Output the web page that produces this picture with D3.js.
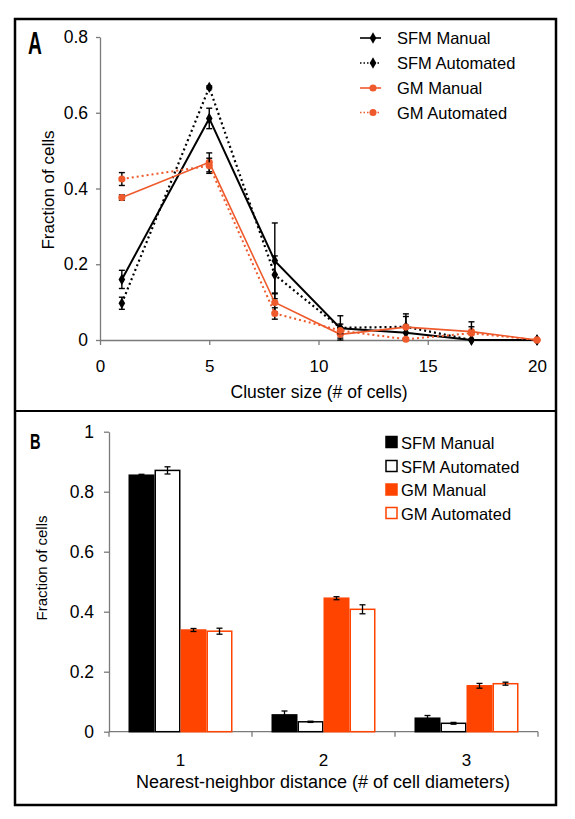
<!DOCTYPE html>
<html>
<head>
<meta charset="utf-8">
<script src="https://cdn.jsdelivr.net/npm/d3@7"></script>
<style>
  html, body { margin: 0; padding: 0; background: #fff; }
  text { font-family: "Liberation Sans", Arial, sans-serif; fill: #000; }
</style>
</head>
<body>
<script>
// ---------- DATA: panel A (line chart) ----------
const clusterSizes = [1, 5, 8, 11, 14, 17, 20];
const sfmManualA    = [0.160, 0.585, 0.209, 0.031, 0.019, 0.000, 0.000];
const sfmManualAErr = [0.024, 0.027, 0.100, 0.033, 0.020, 0.000, 0.000];
const sfmAutoA      = [0.097, 0.667, 0.172, 0.032, 0.035, 0.000, 0.000];
const sfmAutoAErr   = [0.016, 0.004, 0.050, 0.010, 0.034, 0.000, 0.000];
const gmManualA     = [0.376, 0.469, 0.099, 0.015, 0.034, 0.022, 0.000];
const gmManualAErr  = [0.007, 0.025, 0.025, 0.010, 0.028, 0.026, 0.000];
const gmAutoA       = [0.425, 0.460, 0.070, 0.025, 0.002, 0.018, 0.000];
const gmAutoAErr    = [0.017, 0.020, 0.015, 0.008, 0.003, 0.017, 0.000];
const xTicksA = [0, 5, 10, 15, 20];
const yTicksA = [0, 0.2, 0.4, 0.6, 0.8];

// ---------- DATA: panel B (bar chart) ----------
const distances = ["1", "2", "3"];
const seriesNames = ["SFM Manual", "SFM Automated", "GM Manual", "GM Automated"];
const sfmManualB    = [0.855, 0.056, 0.045];
const sfmManualBErr = [0.003, 0.013, 0.009];
const sfmAutoB      = [0.871, 0.033, 0.028];
const sfmAutoBErr   = [0.012, 0.002, 0.003];
const gmManualB     = [0.339, 0.445, 0.153];
const gmManualBErr  = [0.005, 0.005, 0.008];
const gmAutoB       = [0.335, 0.408, 0.160];
const gmAutoBErr    = [0.010, 0.015, 0.005];
const yTicksB = [0, 0.2, 0.4, 0.6, 0.8, 1];

// ---------- styling ----------
const ORANGE_LINE = "#ee5a2c";
const ORANGE_BAR = "#ff4400";
const AXIS_GRAY = "#7a7a7a";

const svg = d3.select("body").append("svg")
  .attr("width", 575).attr("height", 819);

// outer frame and divider
svg.append("rect").attr("x", 15).attr("y", 19).attr("width", 541).attr("height", 786)
  .attr("fill", "none").attr("stroke", "#000").attr("stroke-width", 2.5);
svg.append("line").attr("x1", 15).attr("x2", 556).attr("y1", 411).attr("y2", 411)
  .attr("stroke", "#000").attr("stroke-width", 2);

function panelLetter(txt, x, y, size, sx) {
  svg.append("text").text(txt)
    .attr("transform", `translate(${x},${y}) scale(${sx},1)`)
    .attr("font-size", size).attr("font-weight", "bold");
}
panelLetter("A", 28, 54, 31, 0.62);
panelLetter("B", 30, 449, 22.5, 0.65);

function styleAxis(g, fs) {
  g.select(".domain").attr("stroke", AXIS_GRAY).attr("stroke-width", 1.3);
  g.selectAll(".tick line").attr("stroke", AXIS_GRAY).attr("stroke-width", 1.3);
  g.selectAll(".tick text").attr("font-size", fs)
    .attr("font-family", '"Liberation Sans", Arial, sans-serif').attr("fill", "#000");
}

// =================== PANEL A ===================
const xA = d3.scaleLinear().domain([0, 20]).range([100, 537]);
const yA = d3.scaleLinear().domain([0, 0.8]).range([340, 37]);

const gxA = svg.append("g").attr("transform", `translate(0,${yA(0)})`)
  .call(d3.axisBottom(xA).tickValues(xTicksA).tickFormat(d3.format("d"))
    .tickSizeInner(5).tickSizeOuter(0).tickPadding(15));
styleAxis(gxA, 17);

const gyA = svg.append("g").attr("transform", `translate(${xA(0)},0)`)
  .call(d3.axisLeft(yA).tickValues(yTicksA).tickFormat(d => d === 0 ? "0" : d3.format(".1f")(d))
    .tickSizeInner(4).tickSizeOuter(0).tickPadding(8));
styleAxis(gyA, 17.5);

svg.append("text").text("Cluster size (# of cells)")
  .attr("x", 319).attr("y", 398).attr("text-anchor", "middle").attr("font-size", 17.5);
svg.append("text").text("Fraction of cells")
  .attr("transform", `translate(54,190) rotate(-90)`)
  .attr("text-anchor", "middle").attr("font-size", 17);

const diamond = d3.symbol().type(d3.symbolDiamond).size(38);
const circle = d3.symbol().type(d3.symbolCircle).size(40);

const seriesA = [
  { name: "SFM Manual",    v: sfmManualA, e: sfmManualAErr, color: "#000", dash: null,  width: 2,   sym: diamond },
  { name: "SFM Automated", v: sfmAutoA,   e: sfmAutoAErr,   color: "#000", dash: "2,3", width: 2.2, sym: diamond },
  { name: "GM Manual",     v: gmManualA,  e: gmManualAErr,  color: ORANGE_LINE, dash: null,  width: 1.6, sym: circle },
  { name: "GM Automated",  v: gmAutoA,    e: gmAutoAErr,    color: ORANGE_LINE, dash: "2,3", width: 2,   sym: circle }
];

const lineGen = d3.line().x(d => xA(d.x)).y(d => yA(d.y));

seriesA.forEach(s => {
  const pts = clusterSizes.map((x, i) => ({ x, y: s.v[i], e: s.e[i] }));
  const g = svg.append("g");
  pts.filter(p => p.e > 0).forEach(p => {
    const cx = xA(p.x), y1 = yA(p.y + p.e), y2 = yA(Math.max(0, p.y - p.e));
    g.append("line").attr("x1", cx).attr("x2", cx).attr("y1", y1).attr("y2", y2)
      .attr("stroke", "#000").attr("stroke-width", 1.4);
    [y1, y2].forEach(yy => g.append("line").attr("x1", cx - 3).attr("x2", cx + 3)
      .attr("y1", yy).attr("y2", yy).attr("stroke", "#000").attr("stroke-width", 1.4));
  });
  g.append("path").datum(pts).attr("d", lineGen).attr("fill", "none")
    .attr("stroke", s.color).attr("stroke-width", s.width)
    .attr("stroke-dasharray", s.dash);
  g.selectAll("path.m").data(pts).join("path").attr("class", "m")
    .attr("d", s.sym).attr("transform", d => `translate(${xA(d.x)},${yA(d.y)})`)
    .attr("fill", s.color);
});

// legend A
const legA = svg.append("g");
const legAy = [38, 63, 88, 112.5];
seriesA.forEach((s, i) => {
  const y = legAy[i];
  legA.append("line").attr("x1", 360).attr("x2", 381).attr("y1", y).attr("y2", y)
    .attr("stroke", s.color).attr("stroke-width", s.dash ? 1.4 : 1.6)
    .attr("stroke-dasharray", s.dash ? "1.5,2" : null);
  legA.append("path").attr("d", s.sym).attr("transform", `translate(373,${y})`).attr("fill", s.color);
  legA.append("text").text(s.name).attr("x", 397).attr("y", y + 6).attr("font-size", 16.5);
});

// =================== PANEL B ===================
const x0 = d3.scaleBand().domain(distances).range([109, 538]).paddingInner(0).paddingOuter(0);
const x1 = d3.scaleBand().domain(seriesNames).range([0, x0.bandwidth()]).paddingInner(0).paddingOuter(0.75);
const yB = d3.scaleLinear().domain([0, 1]).range([731.7, 431.7]);

const gyB = svg.append("g").attr("transform", `translate(109,0)`)
  .call(d3.axisLeft(yB).tickValues(yTicksB).tickFormat(d => (d === 0 || d === 1) ? String(d) : d3.format(".1f")(d))
    .tickSizeInner(5).tickSizeOuter(0).tickPadding(10));
styleAxis(gyB, 17.5);

const gxB = svg.append("g").attr("transform", `translate(0,${yB(0)})`);
gxB.append("line").attr("x1", 109).attr("x2", 538).attr("y1", 0).attr("y2", 0)
  .attr("stroke", AXIS_GRAY).attr("stroke-width", 1.3);
const boundaries = distances.map(d => x0(d)).concat([x0(distances[distances.length - 1]) + x0.bandwidth()]);
boundaries.forEach(bx => gxB.append("line").attr("x1", bx).attr("x2", bx).attr("y1", 0).attr("y2", 5)
  .attr("stroke", AXIS_GRAY).attr("stroke-width", 1.3));
distances.forEach(d => gxB.append("text").text(d)
  .attr("x", x0(d) + x0.bandwidth() / 2).attr("y", 34).attr("text-anchor", "middle").attr("font-size", 17));

svg.append("text").text("Nearest-neighbor distance (# of cell diameters)")
  .attr("x", 323).attr("y", 788).attr("text-anchor", "middle").attr("font-size", 18);
svg.append("text").text("Fraction of cells")
  .attr("transform", `translate(47,568) rotate(-90)`)
  .attr("text-anchor", "middle").attr("font-size", 15);

const seriesB = [
  { name: "SFM Manual",    v: sfmManualB, e: sfmManualBErr, fill: "#000",     stroke: "#000" },
  { name: "SFM Automated", v: sfmAutoB,   e: sfmAutoBErr,   fill: "#fff",     stroke: "#000" },
  { name: "GM Manual",     v: gmManualB,  e: gmManualBErr,  fill: ORANGE_BAR, stroke: ORANGE_BAR },
  { name: "GM Automated",  v: gmAutoB,    e: gmAutoBErr,    fill: "#fff",     stroke: ORANGE_BAR }
];

seriesB.forEach(s => {
  distances.forEach((d, i) => {
    const bx = x0(d) + x1(s.name), w = x1.bandwidth();
    svg.append("rect").attr("x", bx + 0.75).attr("y", yB(s.v[i]))
      .attr("width", w - 1.5).attr("height", yB(0) - yB(s.v[i]))
      .attr("fill", s.fill).attr("stroke", s.stroke).attr("stroke-width", 1.5);
  });
});
seriesB.forEach(s => {
  distances.forEach((d, i) => {
    const cx = x0(d) + x1(s.name) + x1.bandwidth() / 2;
    const y1 = yB(s.v[i] + s.e[i]), y2 = yB(s.v[i] - s.e[i]);
    svg.append("line").attr("x1", cx).attr("x2", cx).attr("y1", y1).attr("y2", y2)
      .attr("stroke", "#000").attr("stroke-width", 1.3);
    [y1, y2].forEach(yy => svg.append("line").attr("x1", cx - 3).attr("x2", cx + 3)
      .attr("y1", yy).attr("y2", yy).attr("stroke", "#000").attr("stroke-width", 1.3));
  });
});

// legend B
const legBy = [442, 466, 489.5, 513];
seriesB.forEach((s, i) => {
  const y = legBy[i];
  svg.append("rect").attr("x", 386).attr("y", y - 5.5).attr("width", 11).attr("height", 11)
    .attr("fill", s.fill).attr("stroke", s.stroke).attr("stroke-width", 1.5);
  svg.append("text").text(s.name).attr("x", 401).attr("y", y + 6.5).attr("font-size", 16.5);
});
</script>
</body>
</html>
